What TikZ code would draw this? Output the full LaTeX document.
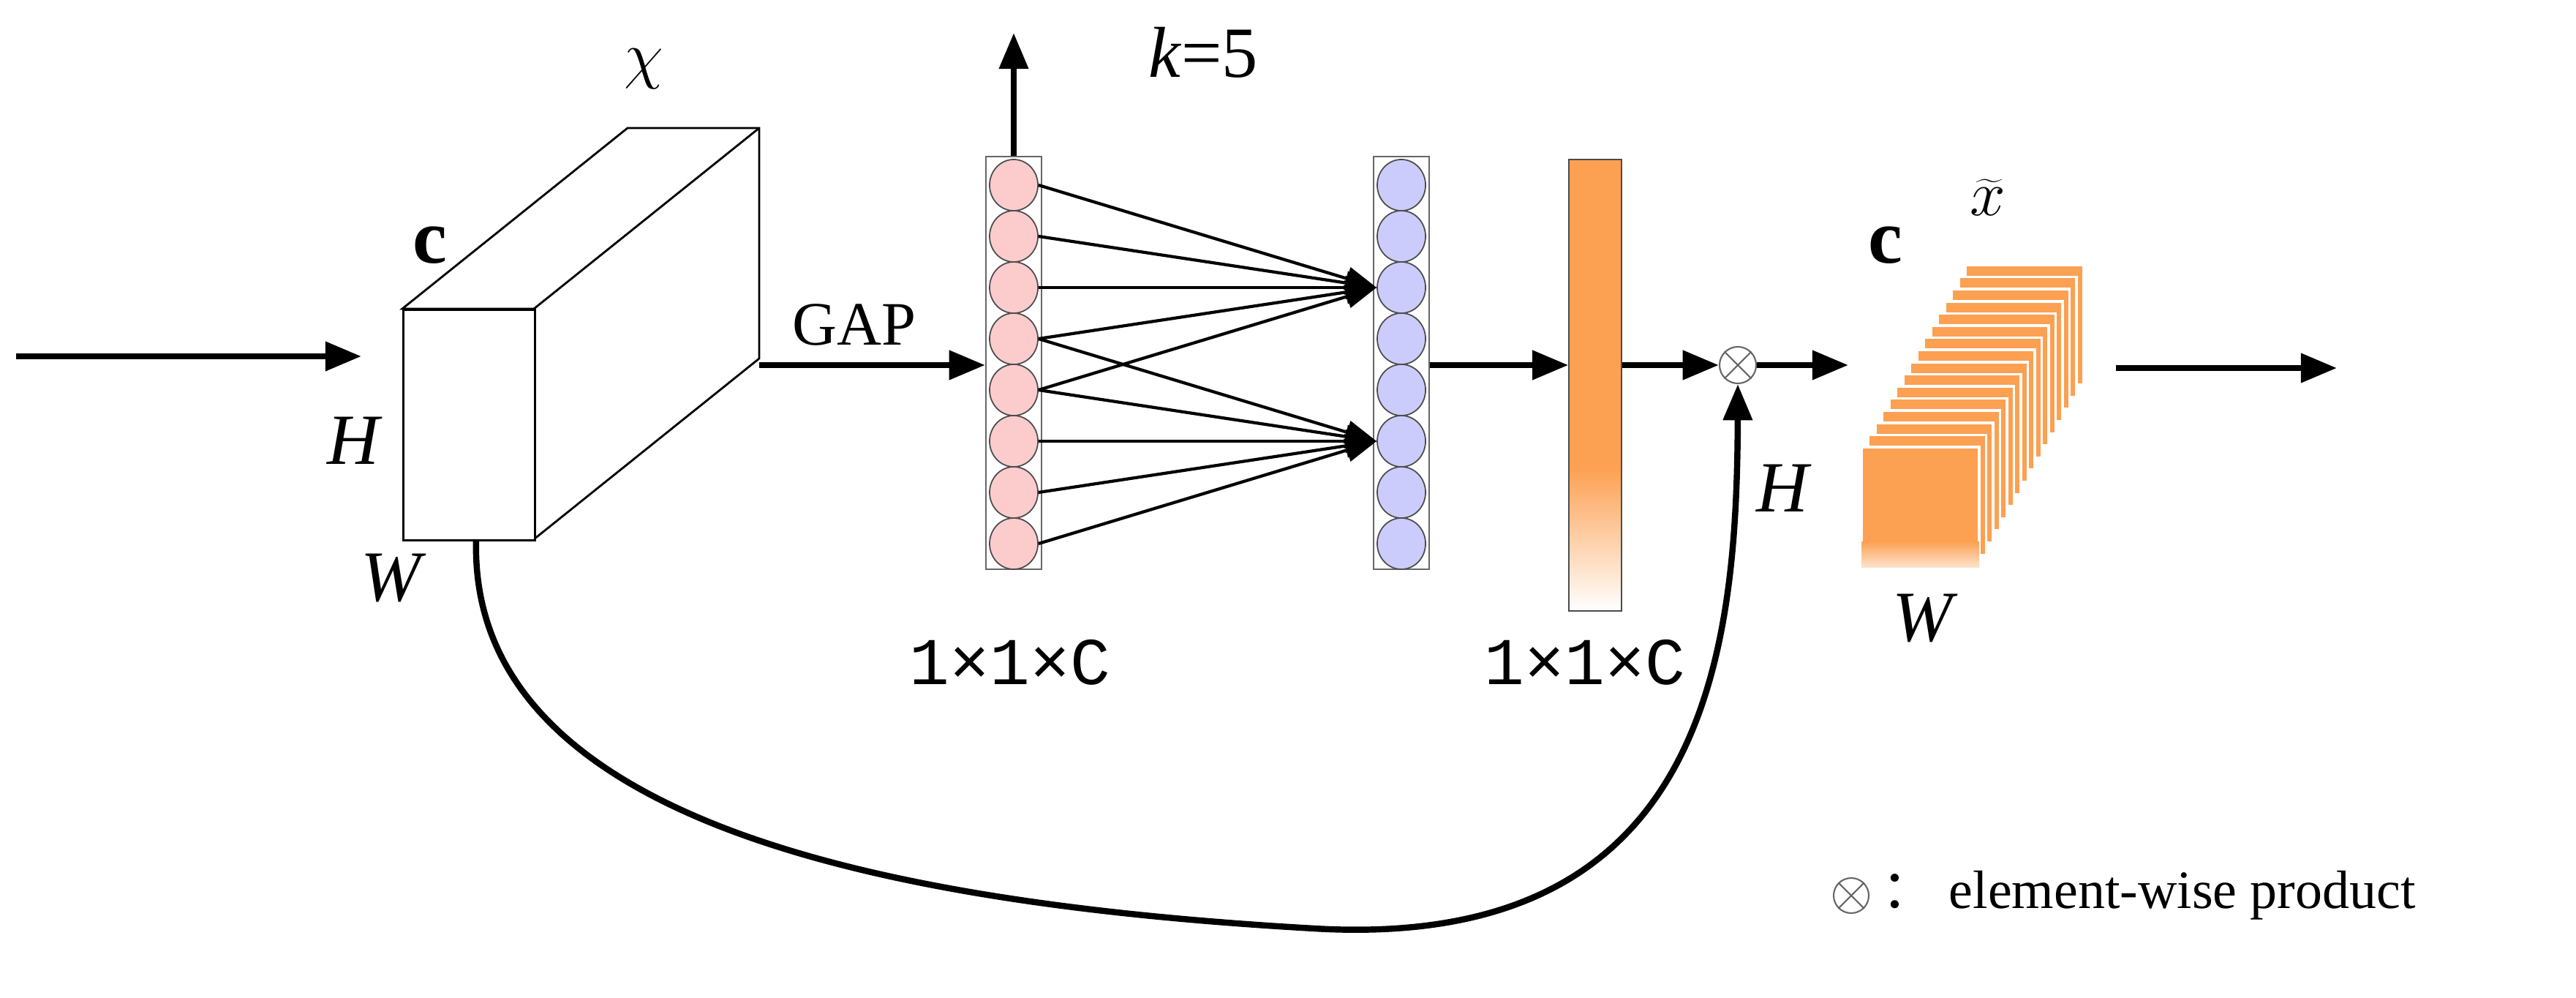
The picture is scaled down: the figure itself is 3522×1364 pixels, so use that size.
\documentclass[tikz,border=0pt]{standalone}
\usepackage{fontspec}
\setmainfont{Liberation Serif}
\newfontfamily\monof{Liberation Mono}
\newfontfamily\cjkf{Noto Sans CJK SC}
\usetikzlibrary{arrows.meta,shapes.geometric}
\definecolor{pinkc}{RGB}{252,204,204}
\definecolor{bluec}{RGB}{204,204,252}
\definecolor{orangec}{RGB}{252,160,82}
\begin{document}
\begin{tikzpicture}[x=0.01cm,y=-0.01cm,
  arr/.style={line width=2.4pt,-{Triangle[length=14pt,width=11pt]}},
  fan/.style={line width=1.2pt,-{Triangle[length=12pt,width=9pt]}},
  lbl/.style={font=\fontsize{28}{30}\selectfont\itshape,inner sep=0pt},
  neur/.style={ellipse,draw=black!70,line width=0.5pt,minimum width=0.66cm,minimum height=0.70cm,inner sep=0pt}]
\useasboundingbox (0,0) rectangle (3522,1364);
% input arrow
\coordinate (in) at (22,487);
\coordinate (cubeL) at (494,487);
\draw[arr] (in) -- (cubeL);
% cube
\draw[line width=0.8pt,fill=white] (550,422) -- (858,175) -- (1038,175) -- (1038,490) -- (730,737) -- (730,422) -- cycle;
\draw[line width=0.8pt] (730,422) -- (1038,175);
\node[draw,line width=0.8pt,fill=white,minimum width=1.80cm,minimum height=3.15cm,inner sep=0pt,anchor=north west] (cube) at (550,422) {};
\node[font=\fontsize{30}{32}\selectfont\bfseries] at (588,335) {c};
\node[lbl] at (880,94) {$\chi$};
\node[lbl] at (483,602) {H};
\node[lbl] at (535,790) {W};
% columns
\node[draw=black!60,line width=0.6pt,minimum width=0.76cm,minimum height=5.63cm,inner sep=0pt] (pcol) at (1386,496) {};
\node[draw=black!60,line width=0.6pt,minimum width=0.76cm,minimum height=5.63cm,inner sep=0pt] (bcol) at (1916,496) {};
\foreach \i in {1,...,8}{
  \node[neur,fill=pinkc] (p\i) at (1386,{215+70*(\i-0.5)+3}) {};
  \node[neur,fill=bluec] (b\i) at (1916,{215+70*(\i-0.5)+3}) {};
}
\coordinate (gapS) at (1038,499);
\draw[arr] (gapS) -- (pcol.west |- gapS);
\node[font=\fontsize{24}{26}\selectfont,anchor=south] at (1168,485) {GAP};
\coordinate (upT) at (1386,45);
\draw[arr] (pcol.north) -- (upT);
\node[font=\fontsize{28}{30}\selectfont] at (1645,72) {\textit{k}=5};
\foreach \i in {1,...,5}{\draw[fan] (p\i.east) -- (b3.west);}
\foreach \i in {4,...,8}{\draw[fan] (p\i.east) -- (b6.west);}
\node[font=\monof\fontsize{26}{28}\selectfont] at (1381,905) {1×1×C};
\node[font=\monof\fontsize{26}{28}\selectfont] at (2167,905) {1×1×C};
% orange bar
\fill[orangec] (2145,218) rectangle (2217,640);
\shade[top color=orangec,bottom color=white] (2145,639) rectangle (2217,835);
\draw[line width=0.6pt,black!70] (2145,218) rectangle (2217,835);
\node[minimum width=0.72cm,minimum height=6.17cm,inner sep=0pt] (obar) at (2181,526) {};
\draw[arr] (bcol.east |- 0,499) -- (obar.west |- 0,499);
% otimes
\node[circle,draw=black!60,line width=0.6pt,minimum size=0.50cm,inner sep=0pt] (ot) at (2376,499) {};
\draw[black!60,line width=0.6pt] (ot.north west) -- (ot.south east) (ot.north east) -- (ot.south west);
\draw[arr] (obar.east |- 0,499) -- (ot.west);
% stack
\foreach \j in {15,14,...,0}{
  \fill[orangec,draw=white,line width=1pt] ({2545+9.5*\j},{611-16.6*\j}) rectangle ({2706+9.5*\j},{775-16.6*\j});
}
\shade[top color=orangec,bottom color=orangec!30] (2545,740) rectangle (2706,775);
\node[minimum width=1.61cm,minimum height=1.64cm,inner sep=0pt] (stack) at (2625,693) {};
\coordinate (stackIn) at (2527,499);
\draw[arr] (ot.east) -- (stackIn);
\node[font=\fontsize{30}{32}\selectfont\bfseries] at (2578,335) {c};
\node[font=\fontsize{44}{46}\selectfont] at (2718,270) {$\widetilde{x}$};
\node[lbl] at (2437,667) {H};
\node[lbl] at (2628,845) {W};
\coordinate (outS) at (2893,503);
\coordinate (outE) at (3195,503);
\draw[arr] (outS) -- (outE);
% skip curve
\coordinate (cb) at (651,737);
\coordinate (low) at (1797,1269);
\draw[arr] (cb) .. controls (640,1120) and (1200,1235) .. (low) .. controls (2330,1300) and (2375,900) .. (ot.south);
% legend
\node[circle,draw=black!60,line width=0.6pt,minimum size=0.48cm,inner sep=0pt] (lg) at (2531,1224) {};
\draw[black!60,line width=0.6pt] (lg.north west) -- (lg.south east) (lg.north east) -- (lg.south west);
\node[font=\fontsize{21}{23}\selectfont,anchor=west] at (2560,1224) {{\cjkf ：}\ element-wise product};
\end{tikzpicture}
\end{document}
